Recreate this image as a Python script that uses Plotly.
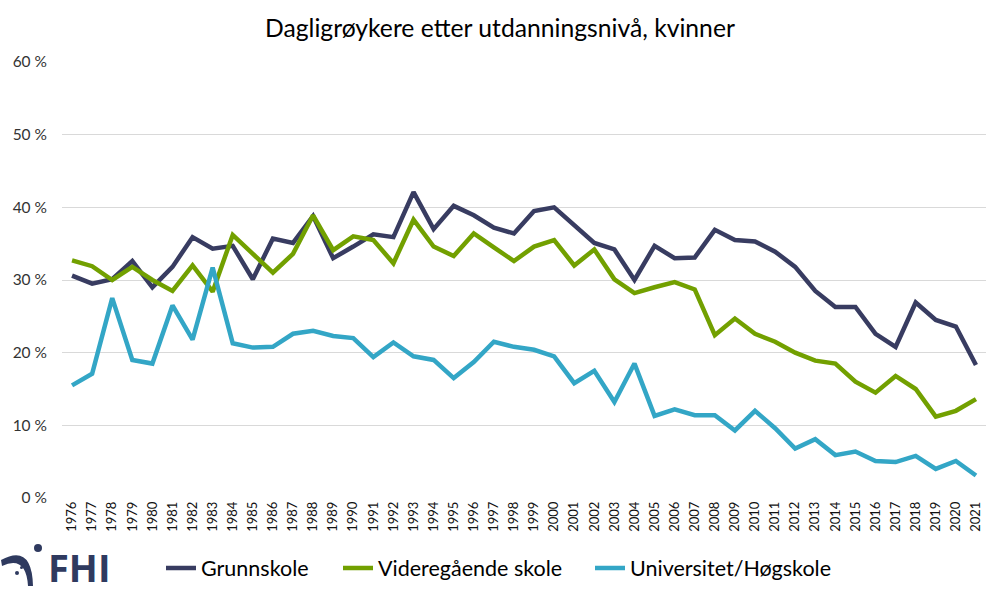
import plotly.graph_objects as go

years = list(range(1976, 2022))

grunnskole = [30.6, 29.5, 30.1, 32.6, 29.0, 31.8, 35.9, 34.3, 34.7, 30.1,
              35.7, 35.1, 38.8, 33.0, 34.6, 36.3, 35.9, 42.1, 37.0, 40.2,
              38.9, 37.2, 36.4, 39.5, 40.0, 37.5, 35.1, 34.2, 30.0, 34.7,
              33.0, 33.1, 36.9, 35.5, 35.3, 33.9, 31.8, 28.5, 26.3, 26.3,
              22.6, 20.8, 26.9, 24.5, 23.6, 18.3]

videregaende = [32.7, 31.9, 30.0, 31.8, 30.0, 28.5, 32.0, 28.4, 36.2, 33.6,
                31.0, 33.6, 38.9, 34.1, 36.0, 35.5, 32.3, 38.3, 34.6, 33.3,
                36.4, 34.5, 32.6, 34.6, 35.5, 32.0, 34.2, 30.1, 28.2, 29.0,
                29.7, 28.7, 22.4, 24.7, 22.6, 21.5, 20.0, 18.9, 18.5, 16.0,
                14.5, 16.8, 15.0, 11.2, 12.0, 13.6]

universitet = [15.5, 17.1, 27.5, 19.0, 18.5, 26.5, 21.8, 31.7, 21.3, 20.7,
               20.8, 22.6, 23.0, 22.3, 22.0, 19.4, 21.4, 19.5, 19.0, 16.5,
               18.7, 21.5, 20.8, 20.4, 19.5, 15.8, 17.5, 13.2, 18.5, 11.3,
               12.2, 11.4, 11.4, 9.3, 12.0, 9.6, 6.8, 8.1, 5.9, 6.4,
               5.1, 4.95, 5.8, 4.0, 5.1, 3.1]

y_ticks = [0, 10, 20, 30, 40, 50, 60]
y_tick_labels = ["0 %", "10 %", "20 %", "30 %", "40 %", "50 %", "60 %"]

series_names = ["Grunnskole", "Videregående skole", "Universitet/Høgskole"]
series_values = [grunnskole, videregaende, universitet]
series_colors = ["#383C61", "#72A000", "#33A6C6"]

FONT = "Lato"

W, H = 1000, 595
L, R, T, B = 62, 14, 62, 97
pw, ph = W - L - R, H - T - B


def px(x):
    return (x - L) / pw


def py(y):
    return (H - B - y) / ph


legend_ids = ["legend", "legend2", "legend3"]
legend_x = [161, 338, 590]

fig = go.Figure()
for name, vals, color, lid in zip(series_names, series_values, series_colors, legend_ids):
    fig.add_trace(go.Scatter(
        x=years, y=vals, name=name, mode="lines",
        line=dict(color=color, width=4.5), legend=lid,
    ))

legend_common = dict(
    orientation="h", xanchor="left", yanchor="middle",
    font=dict(size=21.5, family=FONT, color="#000000"),
    itemwidth=30, bgcolor="rgba(0,0,0,0)",
)

logo_color = "#2F3A5F"
swoosh = (
    f"M {px(1)},{py(560)} "
    f"Q {px(32)},{py(543)} {px(33)},{py(586)} "
    f"L {px(28)},{py(586)} "
    f"Q {px(26)},{py(555)} {px(2)},{py(566)} Z"
)
shapes = [
    dict(type="path", xref="paper", yref="paper", path=swoosh,
         fillcolor=logo_color, line=dict(width=0)),
    dict(type="circle", xref="paper", yref="paper",
         x0=px(34), x1=px(42), y0=py(552), y1=py(544),
         fillcolor=logo_color, line=dict(width=0)),
    dict(type="circle", xref="paper", yref="paper",
         x0=px(15), x1=px(19), y0=py(575), y1=py(571),
         fillcolor=logo_color, line=dict(width=0)),
    dict(type="circle", xref="paper", yref="paper",
         x0=px(20), x1=px(23), y0=py(569), y1=py(566),
         fillcolor=logo_color, line=dict(width=0)),
]

fig.update_layout(
    width=W, height=H,
    margin=dict(l=L, r=R, t=T, b=B, autoexpand=False),
    paper_bgcolor="white", plot_bgcolor="white",
    font=dict(family=FONT, color="#000000"),
    title=dict(text="Dagligrøykere etter utdanningsnivå, kvinner",
               x=0.5, xanchor="center", y=1 - 28 / H, yanchor="middle",
               font=dict(size=24.7, family=FONT, color="#000000")),
    xaxis=dict(
        type="linear", range=[1975.5, 2021.5],
        tickmode="array", tickvals=years, ticktext=[str(y) for y in years],
        tickangle=-90, tickfont=dict(size=13, family=FONT, color="#111111"),
        showgrid=False, zeroline=False, showline=False, ticks="",
    ),
    yaxis=dict(
        range=[0, 60], tickmode="array", tickvals=y_ticks,
        ticktext=y_tick_labels,
        tickfont=dict(size=15.5, family=FONT, color="#333333"),
        showgrid=True, gridcolor="#D9D9D9", gridwidth=1,
        zeroline=False, showline=False, ticks="", ticklabelstandoff=14,
    ),
    legend=dict(x=px(legend_x[0]), y=py(568), **legend_common),
    legend2=dict(x=px(legend_x[1]), y=py(568), **legend_common),
    legend3=dict(x=px(legend_x[2]), y=py(568), **legend_common),
    shapes=shapes,
    annotations=[
        dict(text="<b>FHI</b>", xref="paper", yref="paper",
             x=px(46), y=py(567), xanchor="left", yanchor="middle",
             showarrow=False,
             font=dict(size=38, family="Open Sans", color=logo_color)),
    ],
    showlegend=True,
)

fig.write_html("out.html",
               config={"displayModeBar": False},
               post_script="document.body.style.margin='0';document.body.style.overflow='hidden';")
